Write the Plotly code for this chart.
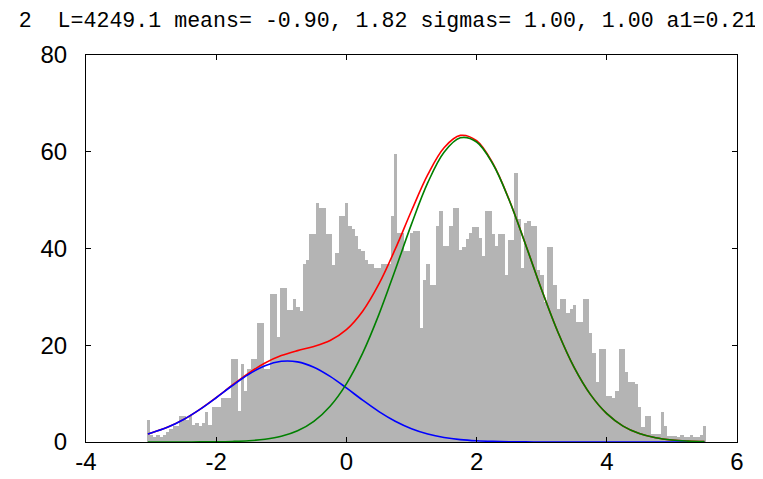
import plotly.graph_objects as go

# ---------------- data ----------------
title_text = "2  L=4249.1 means= -0.90, 1.82 sigmas= 1.00, 1.00 a1=0.21"

hist_start = -3.07      # left edge of first histogram bin
bin_width = 0.05
counts = [
    4.5, 1.5, 1.0, 1.5, 1.0, 1.5, 2.0, 2.6, 3.3, 3.3,
    5.4, 5.4, 4.5, 5.4, 3.5, 4.0, 3.3, 4.0, 6.1, 3.5,
    7.3, 7.3, 7.3, 9.2, 9.2, 9.2, 17.2, 17.2, 6.5, 16.2,
    10.6, 15.0, 17.2, 17.2, 24.5, 24.5, 15.0, 15.0, 30.6, 30.6,
    21.7, 31.8, 31.8, 27.3, 27.3, 29.5, 28.0, 27.0, 36.7, 37.7,
    42.9, 42.9, 49.5, 48.3, 48.3, 43.0, 43.0, 36.5, 39.1, 46.7,
    46.7, 49.5, 44.6, 44.0, 42.6, 40.0, 39.5, 37.7, 36.7, 36.7,
    36.0, 36.0, 36.7, 36.7, 36.7, 46.7, 59.6, 43.3, 43.3, 39.5,
    39.5, 43.3, 43.6, 43.6, 23.5, 33.5, 36.7, 32.5, 32.5, 44.6,
    47.8, 40.6, 40.6, 44.6, 48.3, 48.3, 39.6, 40.4, 42.0, 43.3,
    44.4, 44.4, 42.1, 38.4, 47.8, 47.8, 43.0, 40.6, 43.0, 43.0,
    34.6, 41.8, 41.8, 55.6, 46.0, 36.0, 45.3, 45.6, 44.6, 44.6,
    35.6, 34.6, 29.0, 40.4, 40.4, 32.5, 27.5, 29.6, 29.6, 26.7,
    27.5, 28.3, 24.9, 24.9, 29.6, 29.6, 22.5, 18.3, 12.4, 19.3,
    19.3, 9.6, 9.6, 9.2, 10.6, 19.3, 19.3, 14.4, 12.4, 12.4,
    12.0, 7.2, 3.0, 5.4, 5.4, 1.6, 1.6, 1.6, 6.1, 3.3,
    1.3, 1.3, 1.3, 1.0, 1.5, 1.0, 1.0, 1.5, 1.0, 1.0,
    1.5, 3.3,
]

curve_x = [-3.05, -3.0, -2.75, -2.5, -2.25, -2.0, -1.75, -1.5, -1.25, -1.0,
           -0.75, -0.5, -0.25, 0.0, 0.25, 0.5, 0.75, 1.0, 1.25, 1.5,
           1.75, 2.0, 2.25, 2.5, 2.75, 3.0, 3.25, 3.5, 3.75, 4.0,
           4.25, 4.5, 4.75, 5.0, 5.25, 5.5]
component1 = [1.66, 1.85, 3.03, 4.66, 6.74, 9.15, 11.68, 14.0, 15.77, 16.68,
              16.57, 15.47, 13.57, 11.18, 8.65, 6.29, 4.30, 2.76, 1.66, 0.94,
              0.50, 0.25, 0.12, 0.05, 0.02, 0.01, 0, 0, 0, 0,
              0, 0, 0, 0, 0, 0]
component2 = [0, 0, 0, 0.01, 0.02, 0.04, 0.11, 0.25, 0.57, 1.18,
              2.32, 4.27, 7.40, 12.03, 18.38, 26.38, 35.56, 45.04, 53.6, 59.9,
              62.88, 62.02, 57.47, 50.02, 40.9, 31.42, 22.68, 15.37, 9.79, 5.86,
              3.29, 1.74, 0.86, 0.40, 0.18, 0.07]
mixture = [1.66, 1.85, 3.03, 4.67, 6.76, 9.19, 11.79, 14.25, 16.34, 17.86,
           18.89, 19.74, 20.97, 23.21, 27.03, 32.67, 39.86, 47.80, 55.26, 60.84,
           63.38, 62.27, 57.59, 50.07, 40.92, 31.43, 22.68, 15.37, 9.79, 5.86,
           3.29, 1.74, 0.86, 0.40, 0.18, 0.07]

x_tickvals = [-4, -2, 0, 2, 4, 6]
x_ticktext = ["-4", "-2", "0", "2", "4", "6"]
y_tickvals = [0, 20, 40, 60, 80]
y_ticktext = ["0", "20", "40", "60", "80"]

# ---------------- figure ----------------
bin_centers = [hist_start + bin_width * (i + 0.5) for i in range(len(counts))]

fig = go.Figure()
fig.add_trace(go.Bar(x=bin_centers, y=counts, width=bin_width,
                     marker=dict(color="rgb(180,180,180)", line=dict(width=0)),
                     hoverinfo="x+y", showlegend=False))
fig.add_trace(go.Scatter(x=curve_x, y=mixture, mode="lines",
                         line=dict(color="rgb(255,0,0)", width=1.6, shape="spline"),
                         showlegend=False))
fig.add_trace(go.Scatter(x=curve_x, y=component1, mode="lines",
                         line=dict(color="rgb(0,0,255)", width=1.6, shape="spline"),
                         showlegend=False))
fig.add_trace(go.Scatter(x=curve_x, y=component2, mode="lines",
                         line=dict(color="rgb(0,128,0)", width=1.6, shape="spline"),
                         showlegend=False))

axis_common = dict(showgrid=False, zeroline=False, showline=True, linecolor="black",
                   linewidth=1, mirror="ticks", ticks="inside", ticklen=5,
                   tickcolor="black", tickwidth=1, automargin=False,
                   tickfont=dict(family="Liberation Sans, Arial, sans-serif",
                                 size=24, color="black"))

# the page body has an 8px default margin, so the figure is sized to fit
W, H = 755, 471
fig.update_layout(
    width=W, height=H,
    margin=dict(l=78, r=26, t=47, b=37, pad=0),
    paper_bgcolor="white", plot_bgcolor="white",
    bargap=0,
    title=dict(text=title_text, x=380 / W, xanchor="center",
               y=1 - 11 / H, yanchor="middle", xref="container",
               yref="container",
               font=dict(family="Liberation Mono, DejaVu Sans Mono, monospace",
                         size=21.6, color="black")),
    xaxis=dict(range=[-4, 6], tickvals=x_tickvals, ticktext=x_ticktext,
               ticklabelstandoff=-2, **axis_common),
    yaxis=dict(range=[0, 80], tickvals=y_tickvals, ticktext=y_ticktext,
               ticklabelstandoff=13, **axis_common),
)

fig.write_html("out.html")
